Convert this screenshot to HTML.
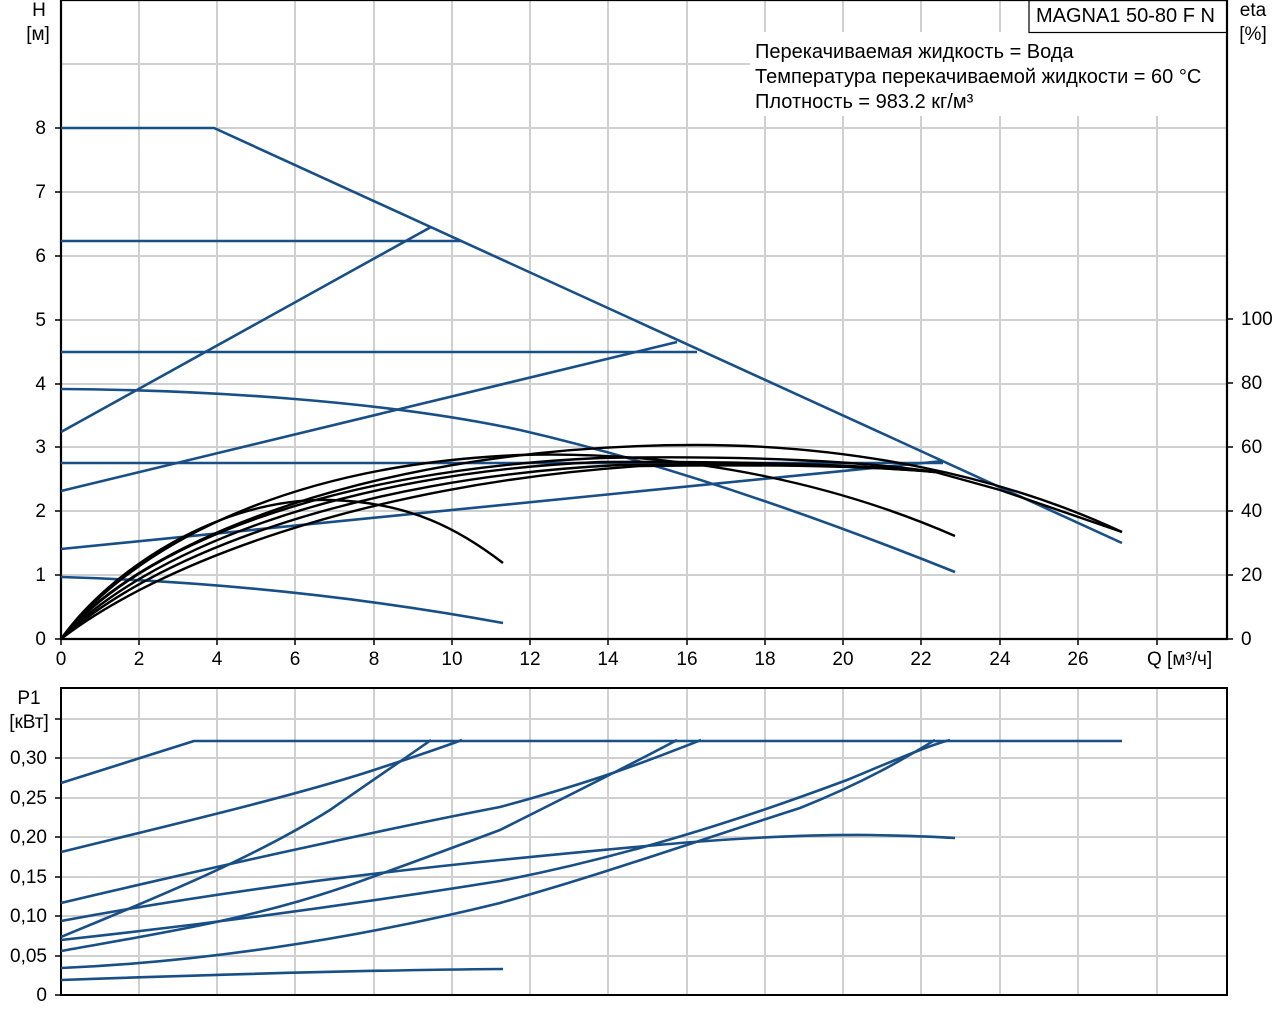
<!DOCTYPE html>
<html><head><meta charset="utf-8"><style>
html,body{margin:0;padding:0;background:#fff}
svg{display:block}
text{font-family:"Liberation Sans",Arial,sans-serif;font-size:19px;fill:#000}
.g{stroke:#d0d0d0;stroke-width:2;fill:none}
.b{stroke:#174f86;stroke-width:2.6;fill:none;stroke-linejoin:round}
.k{stroke:#000;stroke-width:2.4;fill:none}
</style></head><body>
<svg width="1280" height="1024" viewBox="0 0 1280 1024" xmlns="http://www.w3.org/2000/svg">
<g class="g">
<path d="M139,0V639M217,0V639M295,0V639M374,0V639M452,0V639M530,0V639M608,0V639M687,0V639M765,0V639M843,0V639M921,0V639M1000,0V639M1078,0V639M1157,0V639"/>
<path d="M61,64H1227M61,128H1227M61,192H1227M61,256H1227M61,320H1227M61,384H1227M61,447H1227M61,511H1227M61,575H1227"/>
</g>
<rect x="750" y="32" width="476" height="84" fill="#fff"/>
<rect x="1029" y="0.5" width="198" height="32" fill="#fff" stroke="#000" stroke-width="1.2"/>
<text x="1036" y="22" style="font-size:20px">MAGNA1 50-80 F N</text>
<text x="755" y="58" style="font-size:20px">Перекачиваемая жидкость = Вода</text>
<text x="755" y="83" style="font-size:20px">Температура перекачиваемой жидкости = 60 °C</text>
<text x="755" y="108" style="font-size:20px">Плотность = 983.2 кг/м³</text>
<path d="M61,0V639H1227V0M61,0H1227" stroke="#000" stroke-width="2.2" fill="none"/>
<path d="M55,128H61M55,192H61M55,256H61M55,320H61M55,384H61M55,447H61M55,511H61M55,575H61M55,639H61M1227,319H1233M1227,383H1233M1227,447H1233M1227,511H1233M1227,575H1233M1227,639H1233M61,639V645M139,639V645M217,639V645M295,639V645M374,639V645M452,639V645M530,639V645M608,639V645M687,639V645M765,639V645M843,639V645M921,639V645M1000,639V645M1078,639V645M1157,639V645" stroke="#000" stroke-width="1.5"/>
<g text-anchor="end">
<text x="46" y="134">8</text><text x="46" y="198">7</text><text x="46" y="262">6</text><text x="46" y="326">5</text><text x="46" y="390">4</text><text x="46" y="453">3</text><text x="46" y="517">2</text><text x="46" y="581">1</text><text x="46" y="645">0</text>
</g>
<text x="39" y="16" text-anchor="middle">H</text><text x="38" y="40" text-anchor="middle">[м]</text>
<text x="1253" y="16" text-anchor="middle">eta</text><text x="1253" y="40" text-anchor="middle">[%]</text>
<g>
<text x="1241" y="325">100</text><text x="1241" y="389">80</text><text x="1241" y="453">60</text><text x="1241" y="517">40</text><text x="1241" y="581">20</text><text x="1241" y="645">0</text>
</g>
<g text-anchor="middle">
<text x="61" y="665">0</text><text x="139" y="665">2</text><text x="217" y="665">4</text><text x="295" y="665">6</text><text x="374" y="665">8</text><text x="452" y="665">10</text><text x="530" y="665">12</text><text x="608" y="665">14</text><text x="687" y="665">16</text><text x="765" y="665">18</text><text x="843" y="665">20</text><text x="921" y="665">22</text><text x="1000" y="665">24</text><text x="1078" y="665">26</text>
</g>
<text x="1147" y="665">Q [м³/ч]</text>
<g class="b">
<path d="M61,128H214L1122,543"/>
<path d="M61,241H462"/>
<path d="M61,352H697"/>
<path d="M61,463H943"/>
<path d="M61,432L431,227"/>
<path d="M61,491L677,342"/>
<path d="M61,549L943,461"/>
<path d="M61,389C200,390 380,400 520,430 C650,460 800,510 955,572"/>
<path d="M61,577C200,581 350,595 503,623"/>
</g>
<g class="k">
<path d="M61,639C110,570 220,497 330,500 C410,502 460,530 503,563"/>
<path d="M61,639C130,550 280,465 520,455 C700,450 850,490 955,536"/>
<path d="M61,639C140,540 380,445 697,445 C850,445 1000,475 1122,532"/>
<path d="M61,639C140,545 330,470 600,458 C750,455 870,462 935,472 L1000,490 L1122,532"/>
<path d="M61,639C145,552 340,473 600,462 C760,461 880,466 935,472"/>
<path d="M61,639C150,558 350,478 620,465 C780,463 880,467 935,472"/>
<path d="M61,639C155,566 360,485 640,466 C790,464 880,467 935,472"/>
</g>
<g class="g">
<path d="M139,688V995M217,688V995M295,688V995M374,688V995M452,688V995M530,688V995M608,688V995M687,688V995M765,688V995M843,688V995M921,688V995M1000,688V995M1078,688V995M1157,688V995"/>
<path d="M61,719H1227M61,758H1227M61,798H1227M61,837H1227M61,877H1227M61,916H1227M61,956H1227"/>
</g>
<rect x="61" y="688" width="1166" height="307" fill="none" stroke="#000" stroke-width="2"/>
<path d="M55,719H61M55,758H61M55,798H61M55,837H61M55,877H61M55,916H61M55,956H61M55,995H61" stroke="#000" stroke-width="1.5"/>
<text x="29" y="704" text-anchor="middle">P1</text><text x="29" y="728" text-anchor="middle">[кВт]</text>
<g text-anchor="end">
<text x="47" y="764">0,30</text><text x="47" y="804">0,25</text><text x="47" y="843">0,20</text><text x="47" y="883">0,15</text><text x="47" y="922">0,10</text><text x="47" y="962">0,05</text><text x="47" y="1001">0</text>
</g>
<g class="b">
<path d="M61,783L194,741H1122"/>
<path d="M61,852C150,830 300,795 380,768 C420,755 440,748 462,740"/>
<path d="M61,937C150,900 250,860 330,810 C380,775 410,755 431,740"/>
<path d="M61,903C200,870 380,830 500,807 C600,780 650,760 701,740"/>
<path d="M61,951C150,935 250,920 350,885 C420,860 460,845 500,830 C570,795 630,765 677,740"/>
<path d="M61,921C200,895 350,875 500,860 C650,845 760,834 870,835 C920,836 940,837 955,838"/>
<path d="M61,940C200,925 350,905 500,881 C650,852 780,805 847,780 C900,758 930,745 950,740"/>
<path d="M61,968C200,962 350,940 500,903 C600,875 700,840 800,808 C870,780 910,755 935,740"/>
<path d="M61,980C200,975 380,970 503,969"/>
</g>
</svg>
</body></html>
